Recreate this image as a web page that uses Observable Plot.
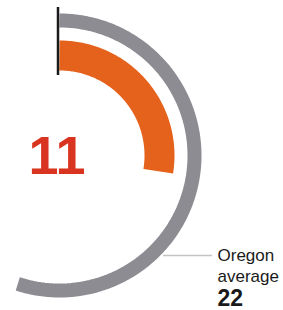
<!DOCTYPE html>
<html>
<head>
<meta charset="utf-8">
<script src="https://cdn.jsdelivr.net/npm/d3@7"></script>
<script src="https://cdn.jsdelivr.net/npm/@observablehq/plot@0.6"></script>
<style>
  html, body { margin: 0; padding: 0; background: #fff; }
  #chart svg { display: block; }
</style>
</head>
<body>
<div id="chart"></div>
<script>
// Data
const categories = ["Local", "Oregon average"];
const values = [11, 22];
const scaleMax = 40;            // value that would complete a full circle
const valueLabels = ["11", "22"];
const averageLabel = "Oregon\naverage";

// Styles (kept apart from data)
const gaugeRadius = [100, 135];
const gaugeWidth = [30, 14];
const gaugeColor = ["#e5621c", "#8c8c92"];

// Build arc paths from the values (angle measured clockwise from 12 o'clock)
function arcPoints(value, r, key) {
  const end = value / scaleMax * 2 * Math.PI;
  const n = 120;
  return d3.range(n + 1).map(i => {
    const a = end * i / n;
    return {key, x: r * Math.sin(a), y: r * Math.cos(a)};
  });
}
const arcs = categories.map((c, i) => arcPoints(values[i], gaugeRadius[i], c));

const font = "'Liberation Sans', Arial, Helvetica, sans-serif";

const chart = Plot.plot({
  width: 283,
  height: 310,
  margin: 0,
  x: {domain: [-59, 224], axis: null},
  y: {domain: [-155, 155], axis: null},
  style: {fontFamily: font, background: "#fff"},
  marks: [
    Plot.line(arcs[1], {x: "x", y: "y", stroke: gaugeColor[1], strokeWidth: gaugeWidth[1], strokeLinecap: "butt"}),
    Plot.line(arcs[0], {x: "x", y: "y", stroke: gaugeColor[0], strokeWidth: gaugeWidth[0], strokeLinecap: "butt"}),
    Plot.ruleX([-1.5], {y1: 80, y2: 148, stroke: "#1a1a1a", strokeWidth: 2.5}),
    Plot.ruleY([-100], {x1: 104, x2: 153, stroke: "#c4c4c4", strokeWidth: 1.5}),
    Plot.text([valueLabels[0]], {x: -2.5, y: -18, text: d => d, fontSize: 54, fontWeight: "bold", fill: "#d8341f", textAnchor: "middle", lineAnchor: "bottom"}),
    Plot.text([averageLabel], {x: 158, y: -90, text: d => d, fontSize: 17, fill: "#1a1a1a", textAnchor: "start", lineAnchor: "top", lineHeight: 1.27}),
    Plot.text([valueLabels[1]], {x: 158, y: -150, text: d => d, fontSize: 23, fontWeight: "bold", fill: "#1a1a1a", textAnchor: "start", lineAnchor: "bottom"})
  ]
});
document.getElementById("chart").appendChild(chart);
</script>
</body>
</html>
